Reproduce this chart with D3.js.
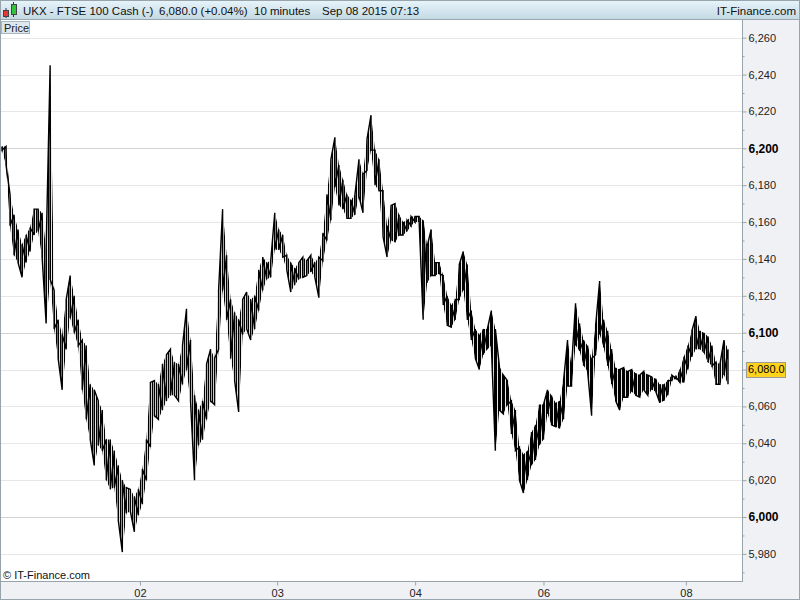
<!DOCTYPE html>
<html><head><meta charset="utf-8">
<script src="https://cdn.jsdelivr.net/npm/d3@7"></script>
<style>
body{margin:0;background:#fff;}
svg{display:block;font-family:"Liberation Sans",Arial,sans-serif;}
</style>
</head><body>
<svg id="c" width="800" height="600"></svg>
<script>
// ---- data (10-minute bars, sampled) ----
const highs=[6201,6201,6175,6164,6156,6148,6153,6157,6167,6167,6165,6145,6245,6123,6107,6099,6118,6131,6120,6107,
6096,6093,6072,6069,6063,6058,6042,6042,6036,6028,6020,6016,6015,6011,6015,6026,6042,6073,6074,6072,
6083,6088,6091,6084,6083,6093,6113,6096,6066,6058,6063,6083,6091,6086,6123,6167,6142,6118,6111,6107,
6118,6122,6118,6120,6134,6141,6138,6139,6165,6156,6153,6142,6138,6135,6138,6141,6139,6142,6138,6141,
6154,6175,6194,6206,6191,6183,6175,6172,6175,6194,6186,6205,6218,6199,6194,6177,6158,6169,6170,6164,
6160,6161,6163,6163,6163,6161,6147,6156,6138,6138,6131,6120,6115,6118,6137,6144,6137,6112,6102,6099,
6102,6102,6112,6102,6082,6077,6074,6063,6058,6038,6034,6036,6046,6050,6061,6061,6069,6066,6062,6063,
6074,6096,6082,6116,6105,6096,6093,6086,6104,6128,6107,6101,6091,6081,6080,6081,6079,6080,6078,6077,
6079,6077,6076,6075,6072,6072,6074,6077,6076,6080,6087,6093,6101,6109,6101,6100,6098,6093,6084,6083,
6096,6091];
const lows=[6199,6191,6158,6142,6138,6130,6138,6144,6153,6155,6141,6105,6129,6102,6086,6069,6091,6108,6100,6093,
6069,6053,6042,6028,6039,6036,6020,6015,6016,5998,5981,6002,6003,5992,6001,6007,6020,6038,6055,6053,
6058,6063,6066,6066,6063,6072,6080,6063,6020,6039,6042,6053,6063,6061,6091,6123,6107,6086,6074,6057,
6099,6102,6096,6102,6112,6123,6129,6130,6145,6145,6141,6134,6122,6126,6129,6130,6131,6133,6130,6119,
6139,6150,6161,6179,6169,6167,6162,6162,6164,6174,6165,6188,6199,6180,6177,6152,6141,6150,6149,6153,
6153,6155,6158,6160,6160,6107,6127,6131,6131,6132,6115,6104,6103,6107,6118,6123,6107,6096,6086,6080,
6088,6091,6093,6036,6058,6056,6061,6045,6036,6020,6013,6020,6028,6031,6039,6042,6056,6050,6049,6048,
6053,6071,6071,6093,6090,6082,6079,6055,6088,6099,6092,6082,6072,6063,6058,6065,6065,6068,6066,6065,
6069,6066,6069,6068,6062,6063,6066,6074,6075,6073,6073,6080,6087,6091,6091,6089,6084,6082,6072,6072,
6077,6072];
const lastClose=6080.0;
const yTicks=[5980,6000,6020,6040,6060,6080,6100,6120,6140,6160,6180,6200,6220,6240,6260];
const yMinorTicks=[5970,5990,6010,6030,6050,6070,6090,6110,6130,6150,6170,6190,6210,6230,6250];
const boldTicks=[6000,6100,6200];
const xTickIdx=[34.4,68.6,103,135,170.5];
const xTickLabels=["02","03","04","06","08"];
const titleParts=[["UKX - FTSE 100 Cash (-)",23],["6,080.0 (+0.04%)",159],["10 minutes",254],["Sep 08 2015 07:13",322]];

// ---- layout ----
const W=800,H=600, L=0, R=743, T=20, B=581;
const svg=d3.select("#c");
const defs=svg.append("defs");
const g=defs.append("linearGradient").attr("id","tb").attr("x1",0).attr("y1",0).attr("x2",0).attr("y2",1);
g.append("stop").attr("offset","0%").attr("stop-color","#e8f5fb");
g.append("stop").attr("offset","100%").attr("stop-color","#c3d8e3");
// vertical hatching that mimics densely packed 10-minute bars
const pat=defs.append("pattern").attr("id","bars").attr("patternUnits","userSpaceOnUse")
  .attr("width",2).attr("height",4);
pat.append("rect").attr("x",0).attr("y",0).attr("width",1.1).attr("height",4).attr("fill","#000");

// panels
svg.append("rect").attr("x",0).attr("y",0).attr("width",W).attr("height",H).attr("fill","#f0f1f4");
svg.append("rect").attr("x",L).attr("y",T).attr("width",R-L).attr("height",B-T).attr("fill","#fff");
svg.append("rect").attr("x",0).attr("y",0).attr("width",W).attr("height",20).attr("fill","url(#tb)");
svg.append("line").attr("x1",0).attr("x2",W).attr("y1",19.5).attr("y2",19.5).attr("stroke","#9aa7af");

const x=d3.scaleLinear().domain([0,highs.length-1]).range([2,728]);
const y=d3.scaleLinear().domain([5965.3,6269.6]).range([B,T]);

// gridlines
svg.append("g").selectAll("line").data(yTicks).join("line")
  .attr("x1",L+1).attr("x2",R).attr("y1",d=>Math.round(y(d))+0.5).attr("y2",d=>Math.round(y(d))+0.5)
  .attr("stroke",d=>boldTicks.includes(d)?"#d3d3d3":"#e7e7e7").attr("stroke-width",1);

// price band (high-low range of the bars), hatched
const idx=d3.range(highs.length);
svg.append("path").datum(idx)
  .attr("d",d3.area().x(i=>x(i)).y0(i=>y(lows[i])).y1(i=>y(highs[i])))
  .attr("fill","url(#bars)").attr("stroke","none");

// price line
const pts=[];
highs.forEach((h,i)=>{
  const l=lows[i];
  const cur=(h+l)/2;
  const nxt=i<highs.length-1?(highs[i+1]+lows[i+1])/2:lastClose;
  if(nxt>=cur){pts.push([i,l],[i,h]);}else{pts.push([i,h],[i,l]);}
});
pts.push([highs.length-1,lastClose]);
svg.append("path").datum(pts)
  .attr("d",d3.line().x(d=>x(d[0])).y(d=>y(d[1])))
  .attr("fill","none").attr("stroke","#000").attr("stroke-width",1.4).attr("stroke-linejoin","miter");

// frame lines
svg.append("line").attr("x1",R-0.5).attr("x2",R-0.5).attr("y1",T).attr("y2",B+0.5).attr("stroke","#98a4ac");
svg.append("line").attr("x1",0).attr("x2",R).attr("y1",B+0.5).attr("y2",B+0.5).attr("stroke","#98a4ac");

// right axis
const ya=svg.append("g").attr("transform",`translate(${R-0.5},0)`)
  .call(d3.axisRight(y).tickValues(yTicks).tickSize(4).tickPadding(2).tickFormat(d3.format(",")));
ya.select(".domain").remove();
ya.selectAll(".tick line").attr("stroke","#98a4ac");
ya.selectAll(".tick text").filter(d=>d===Math.round(lastClose)).remove(); // hidden under the last-price tag
ya.selectAll(".tick text").attr("fill","#222").style("font-size","11px")
  .style("font-family","'Liberation Sans',Arial,sans-serif")
  .filter(d=>boldTicks.includes(d)).style("font-weight","bold").style("font-size","12px").attr("fill","#000");
const ym=svg.append("g").attr("transform",`translate(${R-0.5},0)`)
  .call(d3.axisRight(y).tickValues(yMinorTicks).tickSize(2).tickFormat(""));
ym.select(".domain").remove();
ym.selectAll(".tick line").attr("stroke","#98a4ac");

// bottom axis
const xa=svg.append("g").attr("transform",`translate(0,${B+0.5})`)
  .call(d3.axisBottom(x).tickValues(xTickIdx).tickSize(4).tickPadding(4).tickFormat((d,i)=>xTickLabels[i]));
xa.select(".domain").remove();
xa.selectAll(".tick line").attr("stroke","#98a4ac");
xa.selectAll(".tick text").attr("fill","#222").style("font-size","11px")
  .style("font-family","'Liberation Sans',Arial,sans-serif");

// last price tag
const yc=y(lastClose);
svg.append("rect").attr("x",746.5).attr("y",Math.round(yc)-7.5).attr("width",39).attr("height",15)
  .attr("fill","#ffd21c").attr("stroke","#9a9a9a");
svg.append("text").attr("x",748).attr("y",yc).attr("dy","0.35em").attr("font-size","11px").attr("fill","#000")
  .text(d3.format(",.1f")(lastClose));

// Price label
svg.append("rect").attr("x",1.5).attr("y",21.5).attr("width",28).attr("height",12).attr("fill","#dde7ee").attr("stroke","#a9b7c1");
svg.append("text").attr("x",4).attr("y",31.5).attr("font-size","11px").attr("fill","#222").text("Price");

// copyright
svg.append("text").attr("x",3).attr("y",579).attr("font-size","11px").attr("fill","#111").text("© IT-Finance.com");

// title
const tt=svg.append("g");
titleParts.forEach(p=>tt.append("text").attr("x",p[1]).attr("y",15).attr("font-size","11.5px").attr("fill","#111").text(p[0]));
tt.append("text").attr("x",796).attr("y",15).attr("text-anchor","end").attr("font-size","11.5px").attr("fill","#111").text("IT-Finance.com");

// candle icon
const ic=svg.append("g");
ic.append("line").attr("x1",6).attr("x2",6).attr("y1",8).attr("y2",18).attr("stroke","#333");
ic.append("rect").attr("x",3.5).attr("y",10.5).attr("width",5).attr("height",6).attr("fill","#e23a3a").attr("stroke","#444");
ic.append("line").attr("x1",13.5).attr("x2",13.5).attr("y1",2).attr("y2",17).attr("stroke","#333");
ic.append("rect").attr("x",11.5).attr("y",4.5).attr("width",5).attr("height",10).attr("fill","#36c23a").attr("stroke","#444");

// outer frame
svg.append("rect").attr("x",0.5).attr("y",0.5).attr("width",W-1).attr("height",H-1).attr("fill","none").attr("stroke","#98a4ac");
</script>
</body></html>
